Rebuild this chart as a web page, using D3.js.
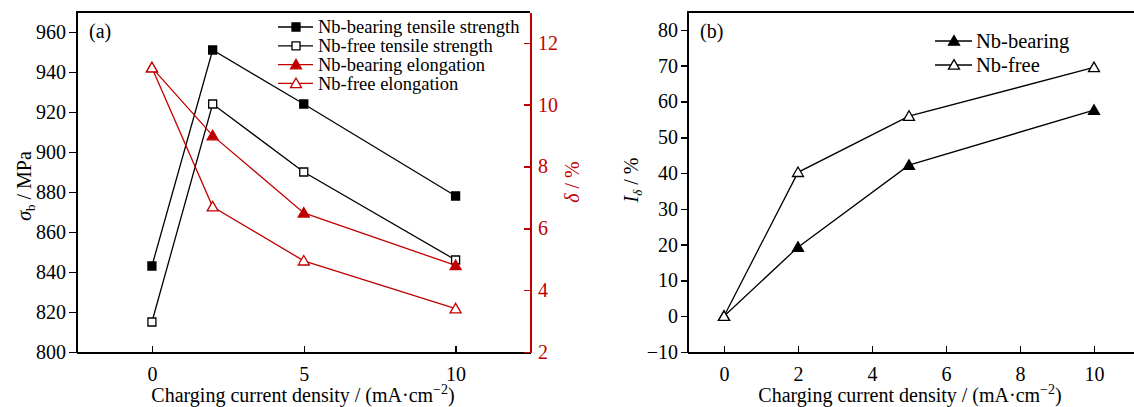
<!DOCTYPE html>
<html>
<head>
<meta charset="utf-8">
<script src="https://cdn.jsdelivr.net/npm/d3@7"></script>
<style>
  body { margin: 0; background: #fff; }
  svg { font-family: "Liberation Serif", "Times New Roman", serif; }
  .axis path, .axis line { shape-rendering: crispEdges; }
</style>
</head>
<body>
<div id="chart"></div>
<script>
// DATA

var current_a = [0, 2, 5, 10];
var nb_bearing_strength = [843, 951, 924, 878];
var nb_free_strength = [815, 924, 890, 846];
var nb_bearing_elong = [11.2, 9.0, 6.5, 4.8];
var nb_free_elong = [11.2, 6.7, 4.95, 3.4];

var current_b = [0, 2, 5, 10];
var nb_bearing_index = [0, 19.3, 42.2, 57.6];
var nb_free_index = [0, 40.2, 55.9, 69.5];

var ticks_a_x = [0, 5, 10];
var ticks_a_left = [800, 820, 840, 860, 880, 900, 920, 940, 960];
var ticks_a_right = [2, 4, 6, 8, 10, 12];
var ticks_b_x = [0, 2, 4, 6, 8, 10];
var ticks_b_y = [-10, 0, 10, 20, 30, 40, 50, 60, 70, 80];

var legend_a = ["Nb-bearing tensile strength", "Nb-free tensile strength",
                "Nb-bearing elongation", "Nb-free elongation"];
var legend_b = ["Nb-bearing", "Nb-free"];

// SETUP

var width = 1134;
var height = 407;
var red = "#c00000";
var tick_font = 20;

var svg = d3.select("#chart").append("svg")
  .attr("width", width)
  .attr("height", height);

var top_y = 12;
var bottom_y = 352;

// panel (a)
var xa = d3.scaleLinear().domain([-2.5, 12.45]).range([76, 530]);
var ya = d3.scaleLinear().domain([800, 970]).range([bottom_y, top_y]);
var ya2 = d3.scaleLinear().domain([2, 13]).range([bottom_y, top_y]);

// panel (b)
var xb = d3.scaleLinear().domain([-1, 11.3]).range([687, 687 + 12.3 * 37]);
var yb = d3.scaleLinear().domain([-10, 85]).range([bottom_y, top_y]);

function style_axis(g, color) {
  g.attr("class", "axis");
  g.select(".domain").attr("stroke", color).attr("stroke-width", 2);
  g.selectAll(".tick line").attr("stroke", color).attr("stroke-width", 1.5);
  g.selectAll(".tick text")
    .attr("fill", color)
    .attr("font-size", tick_font)
    .attr("font-family", "Liberation Serif");
}

function marker(g, shape, filled, color, size) {
  var sym = shape == "square" ? d3.symbolSquare : d3.symbolTriangle;
  var area = shape == "square" ? size * size : size * size * 0.433;
  return g.append("path")
    .attr("d", d3.symbol().type(sym).size(area)())
    .attr("fill", filled ? color : "#fff")
    .attr("stroke", color)
    .attr("stroke-width", 1.3);
}

function draw_series(g, xs, ys, x, y, shape, filled, color, size) {
  var pts = xs.map(function(d, i) { return [d, ys[i]]; });
  g.append("path")
    .datum(pts)
    .attr("fill", "none")
    .attr("stroke", color)
    .attr("stroke-width", 1.3)
    .attr("d", d3.line()
      .x(function(d) { return x(d[0]); })
      .y(function(d) { return y(d[1]); }));
  pts.forEach(function(p) {
    var dy = shape == "triangle" ? 1 : 0;
    marker(g, shape, filled, color, size)
      .attr("transform", "translate(" + x(p[0]) + "," + (y(p[1]) + dy) + ")");
  });
}

// PANEL A

var pa = svg.append("g");

// top border
pa.append("line")
  .attr("x1", xa.range()[0]).attr("x2", xa.range()[1])
  .attr("y1", top_y).attr("y2", top_y)
  .attr("stroke", "#000").attr("stroke-width", 2);

pa.append("g")
  .attr("transform", "translate(0," + bottom_y + ")")
  .call(d3.axisBottom(xa).tickValues(ticks_a_x).tickSize(-6).tickSizeOuter(0).tickPadding(15))
  .call(style_axis, "#000");

pa.append("g")
  .attr("transform", "translate(" + xa.range()[0] + ",0)")
  .call(d3.axisLeft(ya).tickValues(ticks_a_left).tickSize(7).tickSizeOuter(0).tickPadding(3))
  .call(style_axis, "#000");

pa.append("g")
  .attr("transform", "translate(" + xa.range()[1] + ",0)")
  .call(d3.axisRight(ya2).tickValues(ticks_a_right).tickSize(-6).tickSizeOuter(0).tickPadding(8))
  .call(style_axis, red);

draw_series(pa, current_a, nb_bearing_strength, xa, ya, "square", true, "#000", 8);
draw_series(pa, current_a, nb_free_strength, xa, ya, "square", false, "#000", 8);
draw_series(pa, current_a, nb_bearing_elong, xa, ya2, "triangle", true, red, 11);
draw_series(pa, current_a, nb_free_elong, xa, ya2, "triangle", false, red, 11);

// legend a
var leg_a_style = [
  {shape: "square", filled: true, color: "#000"},
  {shape: "square", filled: false, color: "#000"},
  {shape: "triangle", filled: true, color: red},
  {shape: "triangle", filled: false, color: red}
];
legend_a.forEach(function(name, i) {
  var ly = 27 + i * 18.8;
  var s = leg_a_style[i];
  pa.append("line")
    .attr("x1", 278).attr("x2", 313)
    .attr("y1", ly).attr("y2", ly)
    .attr("stroke", s.color).attr("stroke-width", 1.3);
  marker(pa, s.shape, s.filled, s.color, s.shape == "square" ? 8 : 11)
    .attr("transform", "translate(296," + (ly + (s.shape == "triangle" ? 1 : 0)) + ")");
  pa.append("text")
    .attr("x", 318).attr("y", ly)
    .attr("dy", "0.33em")
    .attr("font-size", 18.5)
    .text(name);
});

pa.append("text")
  .attr("x", 89).attr("y", 38)
  .attr("font-size", 20)
  .text("(a)");

// axis titles a
var ta = pa.append("text")
  .attr("transform", "translate(31,186) rotate(-90)")
  .attr("text-anchor", "middle")
  .attr("font-size", 20);
ta.append("tspan").attr("font-style", "italic").text("σ");
ta.append("tspan").attr("font-size", 13).attr("dy", 4).text("b");
ta.append("tspan").attr("dy", -4).text(" / MPa");

var tr = pa.append("text")
  .attr("transform", "translate(579,182) rotate(-90)")
  .attr("text-anchor", "middle")
  .attr("font-size", 20)
  .attr("fill", red);
tr.append("tspan").attr("font-style", "italic").text("δ");
tr.append("tspan").text(" / %");

function x_title(g, cx) {
  var t = g.append("text")
    .attr("x", cx).attr("y", 402)
    .attr("text-anchor", "middle")
    .attr("font-size", 20);
  t.append("tspan").text("Charging current density / (mA·cm");
  t.append("tspan").attr("font-size", 14).attr("dy", -8).text("−2");
  t.append("tspan").attr("dy", 8).text(")");
}
x_title(pa, 303);

// PANEL B

var pb = svg.append("g");

pb.append("line")
  .attr("x1", xb.range()[0]).attr("x2", width)
  .attr("y1", top_y).attr("y2", top_y)
  .attr("stroke", "#000").attr("stroke-width", 2);

pb.append("g")
  .attr("transform", "translate(0," + bottom_y + ")")
  .call(d3.axisBottom(xb).tickValues(ticks_b_x).tickSize(-6).tickSizeOuter(0).tickPadding(15))
  .call(style_axis, "#000");

pb.append("g")
  .attr("transform", "translate(" + xb.range()[0] + ",0)")
  .call(d3.axisLeft(yb).tickValues(ticks_b_y).tickSize(6).tickSizeOuter(0).tickPadding(3))
  .call(style_axis, "#000");

draw_series(pb, current_b, nb_bearing_index, xb, yb, "triangle", true, "#000", 11);
draw_series(pb, current_b, nb_free_index, xb, yb, "triangle", false, "#000", 11);

legend_b.forEach(function(name, i) {
  var ly = 41 + i * 24;
  pb.append("line")
    .attr("x1", 935).attr("x2", 972)
    .attr("y1", ly).attr("y2", ly)
    .attr("stroke", "#000").attr("stroke-width", 1.3);
  marker(pb, "triangle", i == 0, "#000", 11)
    .attr("transform", "translate(954," + (ly + 1) + ")");
  pb.append("text")
    .attr("x", 976).attr("y", ly)
    .attr("dy", "0.33em")
    .attr("font-size", 20.5)
    .text(name);
});

pb.append("text")
  .attr("x", 700).attr("y", 38)
  .attr("font-size", 20)
  .text("(b)");

var tb = pb.append("text")
  .attr("transform", "translate(638,180) rotate(-90)")
  .attr("text-anchor", "middle")
  .attr("font-size", 20);
tb.append("tspan").attr("font-style", "italic").text("I");
tb.append("tspan").attr("font-style", "italic").attr("font-size", 13).attr("dy", 4).text("δ");
tb.append("tspan").attr("dy", -4).text(" / %");

x_title(pb, 910);
</script>
</body>
</html>
